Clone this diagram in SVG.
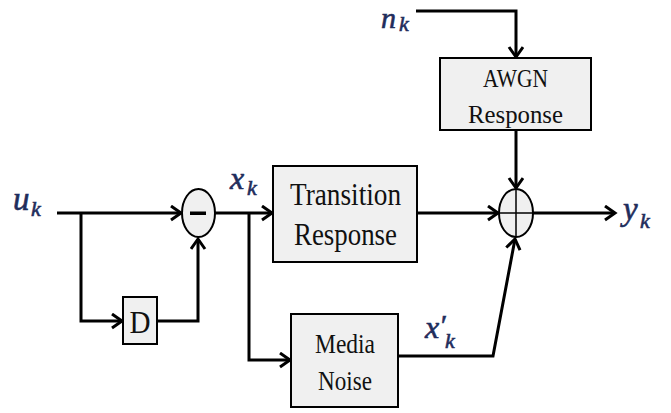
<svg xmlns="http://www.w3.org/2000/svg" width="671" height="413" viewBox="0 0 671 413">
  <style>
    .wire { fill: none; stroke: #000; stroke-width: 3; stroke-linejoin: miter; }
    .box { fill: #f0f0f0; stroke: #000; stroke-width: 2; }
    .sum { fill: #f0f0f0; stroke: #000; stroke-width: 2; }
    .lbl { font-family: "Liberation Serif", "Times New Roman", serif; fill: #111; text-anchor: middle; }
    .math { font-family: "Liberation Serif", "Times New Roman", serif; font-style: italic; fill: #1f2d5c; stroke: #1f2d5c; stroke-width: 0.6; }
  </style>
  <defs>
    <marker id="arrow" markerUnits="userSpaceOnUse" markerWidth="16" markerHeight="18" refX="12" refY="8" orient="auto">
      <path d="M2,1 L12,8 L2,15" fill="none" stroke="#000" stroke-width="3"/>
    </marker>
  </defs>

  <rect width="671" height="413" fill="#fff"/>

  <!-- connectors -->
  <g id="connectors">
    <path class="wire" d="M57,213 H181" marker-end="url(#arrow)"/>
    <path class="wire" d="M81,213 V321 H122" marker-end="url(#arrow)"/>
    <path class="wire" d="M157,321 H198 V239" marker-end="url(#arrow)"/>
    <path class="wire" d="M215,213 H272" marker-end="url(#arrow)"/>
    <path class="wire" d="M249,213 V360 H290" marker-end="url(#arrow)"/>
    <path class="wire" d="M417,213 H498" marker-end="url(#arrow)"/>
    <path class="wire" d="M533,213 H615" marker-end="url(#arrow)"/>
    <path class="wire" d="M416,11 H516 V57" marker-end="url(#arrow)"/>
    <path class="wire" d="M516,130 V188" marker-end="url(#arrow)"/>
    <path class="wire" d="M398,356 H493 L515,239" marker-end="url(#arrow)"/>
  </g>

  <!-- subtractor -->
  <g id="subtract">
    <ellipse class="sum" cx="198.5" cy="213" rx="16.5" ry="24"/>
    <rect x="190" y="211.5" width="16" height="3.5" fill="#000"/>
  </g>

  <!-- delay -->
  <g id="delay">
    <rect class="box" x="123" y="297" width="34" height="47"/>
    <text class="lbl" x="140" y="333" font-size="32" textLength="21" lengthAdjust="spacingAndGlyphs">D</text>
  </g>

  <!-- transition response -->
  <g id="transition">
    <rect class="box" x="273" y="166" width="144" height="96"/>
    <text class="lbl" x="345.5" y="205" font-size="32" textLength="111" lengthAdjust="spacingAndGlyphs">Transition</text>
    <text class="lbl" x="345.5" y="245" font-size="32" textLength="103" lengthAdjust="spacingAndGlyphs">Response</text>
  </g>

  <!-- media noise -->
  <g id="media">
    <rect class="box" x="291" y="314" width="107" height="93"/>
    <text class="lbl" x="345" y="353" font-size="28" textLength="60" lengthAdjust="spacingAndGlyphs">Media</text>
    <text class="lbl" x="345" y="390" font-size="28" textLength="54" lengthAdjust="spacingAndGlyphs">Noise</text>
  </g>

  <!-- AWGN response -->
  <g id="awgn">
    <rect class="box" x="440" y="58" width="151" height="72"/>
    <text class="lbl" x="515.5" y="87" font-size="26" textLength="65" lengthAdjust="spacingAndGlyphs">AWGN</text>
    <text class="lbl" x="515.5" y="123" font-size="26" textLength="95" lengthAdjust="spacingAndGlyphs">Response</text>
  </g>

  <!-- adder -->
  <g id="adder">
    <ellipse class="sum" cx="516" cy="213" rx="17" ry="24"/>
    <line x1="516" y1="189" x2="516" y2="237" stroke="#000" stroke-width="1.5"/>
    <line x1="499" y1="213" x2="533" y2="213" stroke="#000" stroke-width="1.5"/>
  </g>

  <!-- signal labels -->
  <g id="labels">
    <text class="math" x="13" y="210" font-size="33">u</text>
    <text class="math" x="31" y="216" font-size="22">k</text>

    <text class="math" x="230" y="189" font-size="32">x</text>
    <text class="math" x="247" y="195" font-size="22">k</text>

    <text class="math" x="381" y="28" font-size="30">n</text>
    <text class="math" x="399" y="31" font-size="22">k</text>

    <text class="math" x="623" y="220" font-size="33">y</text>
    <text class="math" x="640" y="228" font-size="22">k</text>

    <text class="math" x="425" y="338" font-size="32">x</text>
    <text class="math" x="439" y="335" font-size="30">′</text>
    <text class="math" x="445" y="348" font-size="22">k</text>
  </g>
</svg>
